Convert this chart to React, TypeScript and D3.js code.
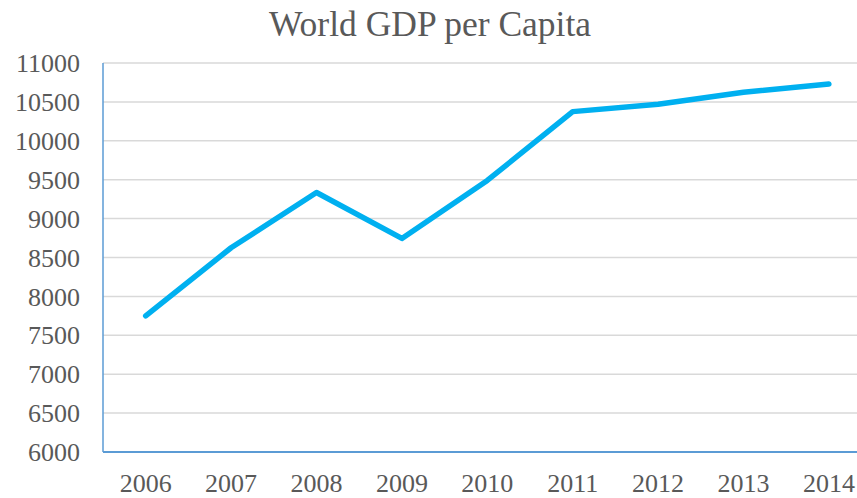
import React, { useEffect, useRef } from 'react';
import * as d3 from 'd3';

const years = ['2006', '2007', '2008', '2009', '2010', '2011', '2012', '2013', '2014'];
const gdpPerCapita = [7750, 8625, 9335, 8745, 9490, 10375, 10470, 10625, 10730];
const yTicks = [6000, 6500, 7000, 7500, 8000, 8500, 9000, 9500, 10000, 10500, 11000];

const App = () => {
  const ref = useRef<SVGSVGElement>(null);

  useEffect(() => {
    const svg = d3.select(ref.current);
    svg.selectAll('*').remove();

    const width = 857;
    const left = 103,
      top = 63,
      bottom = 452,
      plotWidth = 768.6;

    const font = '"Liberation Serif", "Times New Roman", serif';
    const textColor = '#595959';

    const x = d3.scaleBand().domain(years).range([left, left + plotWidth]);
    const y = d3.scaleLinear().domain([6000, 11000]).range([bottom, top]);

    // title
    svg
      .append('text')
      .attr('x', 430)
      .attr('y', 36)
      .attr('text-anchor', 'middle')
      .attr('font-family', font)
      .attr('font-size', 35.5)
      .attr('fill', textColor)
      .text('World GDP per Capita');

    // gridlines
    svg
      .append('g')
      .selectAll('line')
      .data(yTicks.filter((t) => t > 6000))
      .enter()
      .append('line')
      .attr('x1', left)
      .attr('x2', width)
      .attr('y1', (d) => y(d))
      .attr('y2', (d) => y(d))
      .attr('stroke', '#d9d9d9')
      .attr('stroke-width', 1.5);

    // y labels
    svg
      .append('g')
      .selectAll('text')
      .data(yTicks)
      .enter()
      .append('text')
      .attr('x', 80)
      .attr('y', (d) => y(d))
      .attr('dy', '0.35em')
      .attr('text-anchor', 'end')
      .attr('font-family', font)
      .attr('font-size', 26)
      .attr('fill', textColor)
      .text((d) => d);

    // x labels
    svg
      .append('g')
      .selectAll('text')
      .data(years)
      .enter()
      .append('text')
      .attr('x', (d) => (x(d) ?? 0) + x.bandwidth() / 2)
      .attr('y', 492)
      .attr('text-anchor', 'middle')
      .attr('font-family', font)
      .attr('font-size', 26)
      .attr('fill', textColor)
      .text((d) => d);

    // axes lines
    svg
      .append('line')
      .attr('x1', left)
      .attr('x2', left)
      .attr('y1', top)
      .attr('y2', bottom)
      .attr('stroke', '#5b9bd5')
      .attr('stroke-width', 1.5);
    svg
      .append('line')
      .attr('x1', left)
      .attr('x2', width)
      .attr('y1', bottom)
      .attr('y2', bottom)
      .attr('stroke', '#5b9bd5')
      .attr('stroke-width', 2);

    // line
    const line = d3
      .line<number>()
      .x((_, i) => (x(years[i]) ?? 0) + x.bandwidth() / 2)
      .y((d) => y(d));

    svg
      .append('path')
      .datum(gdpPerCapita)
      .attr('d', line)
      .attr('fill', 'none')
      .attr('stroke', '#00b0f0')
      .attr('stroke-width', 5.5)
      .attr('stroke-linecap', 'round')
      .attr('stroke-linejoin', 'round');
  }, []);

  return (
    <svg
      ref={ref}
      width={857}
      height={498}
      style={{ position: 'absolute', left: 0, top: 0, background: '#fff' }}
    />
  );
};

export default App;
